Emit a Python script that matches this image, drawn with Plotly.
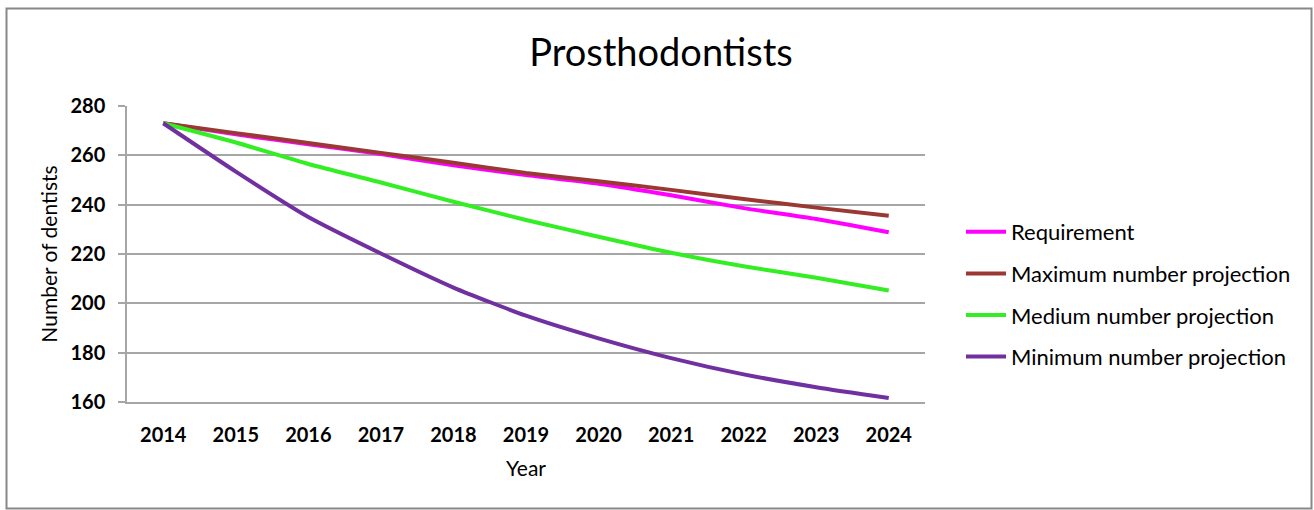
import plotly.graph_objects as go

years = ["2014", "2015", "2016", "2017", "2018", "2019", "2020", "2021", "2022", "2023", "2024"]
requirement = [273, 268.5, 264.5, 260.5, 256, 252, 248.5, 243.8, 238.6, 234.2, 228.8]
maximum = [273, 269, 265, 261, 257, 252.8, 249.5, 246, 242.3, 238.8, 235.5]
medium = [273, 265.2, 256.5, 249, 241.2, 233.8, 227, 220.5, 215, 210.4, 205.2]
minimum = [273, 253.4, 235, 220.2, 206.4, 195, 185.8, 177.8, 171.2, 166, 161.6]

series_names = ["Requirement", "Maximum number projection", "Medium number projection", "Minimum number projection"]
series_values = [requirement, maximum, medium, minimum]
series_colors = ["#FF00FF", "#9A3834", "#33EE22", "#7030A0"]
y_ticks = [160, 180, 200, 220, 240, 260, 280]

FONT = "Lato, Liberation Sans, sans-serif"

fig = go.Figure()
for i, (name, vals, col) in enumerate(zip(series_names, series_values, series_colors)):
    fig.add_trace(go.Scatter(
        x=years, y=vals, name=name, mode="lines",
        line=dict(color=col, width=4, shape="spline", smoothing=0.6),
        legendgroup=f"g{i}",
    ))

W, H = 1314, 510
L, R, T, B = 127, 925, 106, 402
pw, ph = R - L, B - T

def px(x):
    return (x - L) / pw

def py(y):
    return (B - y) / ph

fig.add_shape(type="rect", xref="paper", yref="paper",
              x0=px(6.5), x1=px(1311.5), y0=py(508.5), y1=py(8.5),
              line=dict(color="#888888", width=2), fillcolor="rgba(0,0,0,0)", layer="below")

fig.update_layout(
    width=W, height=H,
    margin=dict(l=L, r=W - R, t=T, b=H - B, pad=0),
    paper_bgcolor="white", plot_bgcolor="white",
    font=dict(family=FONT, color="#000000"),
    title=dict(text="Prosthodontists", x=661 / W, xanchor="center",
               y=1 - 53 / H, yanchor="middle", yref="container",
               font=dict(size=38, family=FONT, color="#000000")),
    xaxis=dict(
        type="category", range=[-0.5, 10.5], showgrid=False,
        showline=True, linecolor="#A6A6A6", linewidth=1.5,
        ticks="", tickfont=dict(size=20, family=FONT, color="#000", weight="bold"),
        title=dict(text="Year", font=dict(size=21, family=FONT), standoff=17),
        ticklabelstandoff=14,
    ),
    yaxis=dict(
        range=[160, 280], tickvals=y_ticks, showgrid=True, gridcolor="#A6A6A6", gridwidth=1.5,
        showline=True, linecolor="#A6A6A6", linewidth=1.5,
        ticks="outside", ticklen=7, tickcolor="#A6A6A6", tickwidth=1.5,
        tickfont=dict(size=20, family=FONT, color="#000", weight="bold"),
        title=dict(text="Number of dentists", font=dict(size=21, family=FONT), standoff=7),
        ticklabelstandoff=9, zeroline=False,
    ),
    legend=dict(
        x=px(961), xanchor="left", y=py(211), yanchor="top",
        font=dict(size=22, family=FONT, color="#000"),
        traceorder="grouped", tracegroupgap=10,
        bgcolor="rgba(0,0,0,0)", itemwidth=40,
    ),
    showlegend=True,
)

fig.write_html("out.html", config={"displayModeBar": False},
               post_script="document.body.style.margin='0';document.body.style.padding='0';")
